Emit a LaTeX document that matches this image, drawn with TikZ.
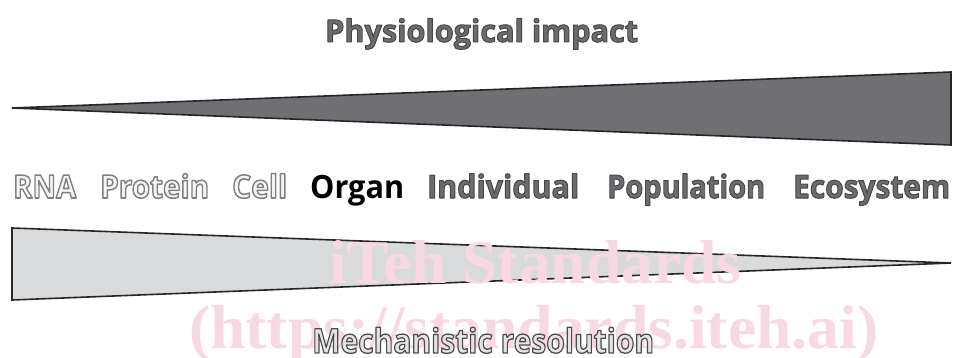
\documentclass[tikz,border=0pt]{standalone}
\usepackage{fontspec}
\setmainfont{Open Sans}
\newfontfamily\wmfont{Liberation Serif}
\definecolor{darkwedge}{HTML}{707074}
\definecolor{lightwedge}{HTML}{D9DADC}
\definecolor{midtext}{HTML}{6B6C70}
\definecolor{palefill}{HTML}{F4F4F4}
\definecolor{mechfill}{HTML}{E4E4E6}
\definecolor{wmpink}{HTML}{F8D9E1}
% #1 fill colour, #2 stroke grey (0..1), #3 stroke width, #4 text
\newcommand\outtext[4]{{\color{#1}\special{pdf:literal direct #2 #2 #2 RG #3 w 1 j 2 Tr}#4\special{pdf:literal direct 0 Tr}}}
\newcommand\fitw[2]{\resizebox{#1pt}{\height}{#2}}
\begin{document}
\begin{tikzpicture}[x=1pt,y=-1pt,
  wedge/.style={line width=1.6pt, draw=black!85, line join=miter},
  lbl/.style={anchor=base west, inner sep=0pt, font=\bfseries\fontsize{32}{32}\selectfont},
  ttl/.style={anchor=base west, inner sep=0pt, font=\bfseries\fontsize{31}{31}\selectfont},
  wm/.style={anchor=base west, inner sep=0pt, text=wmpink, font=\wmfont\bfseries\fontsize{62}{62}\selectfont}]
\useasboundingbox (0,0) rectangle (955,358);
% wedges
\coordinate (ttip) at (12,108);
\coordinate (ttop) at (951,72);
\coordinate (tbot) at (951,145);
\draw[wedge, fill=darkwedge] (ttip) -- (ttop) -- (tbot) -- cycle;
\coordinate (btop) at (12,228);
\coordinate (bbot) at (12,300);
\coordinate (btip) at (951,263);
\draw[wedge, fill=lightwedge] (btop) -- (btip) -- (bbot) -- cycle;
% watermark
\node[wm] (wm1) at (329,283) {\fitw{412}{iTeh Standards}};
\node[wm] (wm2) at (189,348) {\fitw{689}{(https://standards.iteh.ai)}};
% title
\node[ttl] (title) at (325,42) {\fitw{313}{\outtext{midtext}{0.28}{1.0}{Physiological impact}}};
% labels
\node[lbl] (rna) at (13,198) {\fitw{63}{\outtext{palefill}{0.5}{1.5}{RNA}}};
\node[lbl] (protein) at (100,198) {\fitw{109}{\outtext{palefill}{0.5}{1.5}{Protein}}};
\node[lbl] (cell) at (232,198) {\fitw{55}{\outtext{palefill}{0.5}{1.5}{Cell}}};
\node[lbl] (organ) at (310,198) {\fitw{94}{Organ}};
\node[lbl] (individual) at (427,198) {\fitw{152}{\outtext{midtext}{0.28}{1.0}{Individual}}};
\node[lbl] (population) at (607,198) {\fitw{158}{\outtext{midtext}{0.28}{1.0}{Population}}};
\node[lbl] (ecosystem) at (793,198) {\fitw{157}{\outtext{midtext}{0.28}{1.0}{Ecosystem}}};
% bottom caption
\node[anchor=base west, inner sep=0pt, font=\bfseries\fontsize{34}{34}\selectfont] (mech) at (312,353) {\fitw{342}{\outtext{mechfill}{0.3}{1.3}{Mechanistic resolution}}};
\end{tikzpicture}
\end{document}
